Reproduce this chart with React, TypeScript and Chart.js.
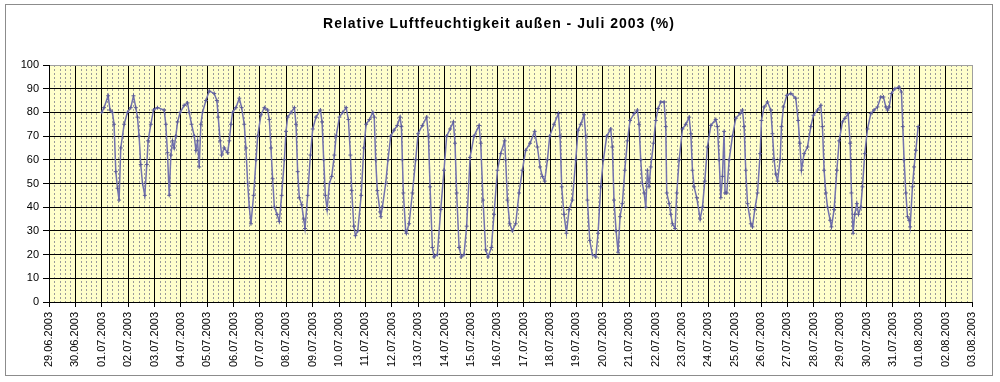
import React, { useEffect, useRef } from "react";
import { Chart, registerables } from "chart.js";

Chart.register(...registerables);

const TITLE = "Relative Luftfeuchtigkeit außen - Juli 2003 (%)";

const dateLabels = [
  "29.06.2003", "30.06.2003", "01.07.2003", "02.07.2003", "03.07.2003", "04.07.2003",
  "05.07.2003", "06.07.2003", "07.07.2003", "08.07.2003", "09.07.2003", "10.07.2003",
  "11.07.2003", "12.07.2003", "13.07.2003", "14.07.2003", "15.07.2003", "16.07.2003",
  "17.07.2003", "18.07.2003", "19.07.2003", "20.07.2003", "21.07.2003", "22.07.2003",
  "23.07.2003", "24.07.2003", "25.07.2003", "26.07.2003", "27.07.2003", "28.07.2003",
  "29.07.2003", "30.07.2003", "31.07.2003", "01.08.2003", "02.08.2003", "03.08.2003",
];

const yMin = 0;
const yMax = 100;
const yStep = 10;

// Series starts on 01.07.2003 00:00, i.e. the third day of the axis
const seriesStartDay = 2;

// hours since 01.07.2003 00:00 and relative humidity (%) — 01.07 to 11.07
const hours1 = [
  0, 2.1, 5.8, 7.6, 9.7, 11.2, 12.8, 14.3, 15.8, 17.3,
  20.4, 23.4, 26.4, 28.9, 31.0, 32.5, 34.0, 35.5, 37.1, 39.2,
  41.0, 42.2, 44.7, 47.1, 50.7, 56.8, 58.3, 59.8, 61.4, 62.9,
  64.4, 65.9, 67.4, 69.0, 71.4, 75.0, 78.1, 79.6, 81.7, 84.2,
  85.7, 87.2, 88.7, 90.2, 91.7, 94.8, 97.8, 102.4, 104.8, 106.0,
  107.8, 109.1, 111.5, 114.5, 116.1, 117.6, 119.1, 122.1, 125.2, 127.3,
  129.7, 131.2, 132.8, 134.3, 135.8, 138.2, 140.4, 141.9, 144.9, 148.0,
  151.0, 152.5, 154.0, 155.5, 157.1, 159.5, 161.6, 163.7, 166.2, 167.7,
  169.2, 172.3, 175.3, 176.8, 178.3, 179.8, 182.0, 183.8, 185.0, 187.4,
  189.9, 192.0, 195.0, 199.0, 200.5, 202.0, 203.5, 205.1, 207.2, 209.3,
  211.7, 213.3, 216.3, 219.3, 222.4, 224.5, 226.3, 227.5, 229.4, 230.9,
  233.0, 236.1, 238.5, 240.6, 243.6, 246.7,
];
const values1 = [
  80, 82, 87, 81, 80, 75, 55, 48, 43, 65,
  75, 80, 82, 87, 82, 78, 70, 58, 50, 45,
  58, 68, 75, 81, 82, 81, 75, 63, 45, 62,
  68, 65, 70, 76, 80, 83, 84, 80, 75, 70,
  64, 68, 57, 75, 80, 85, 89, 88, 85, 78,
  68, 62, 65, 63, 68, 75, 80, 82, 86, 82,
  75, 65, 50, 40, 33, 45, 60, 70, 79, 82,
  81, 77, 65, 52, 40, 37, 34, 45, 60, 72,
  78, 80, 82, 75, 55, 44, 41, 35, 31, 45,
  62, 73, 78, 81, 76, 60, 45, 39, 50, 53,
  62, 70, 78, 80, 82, 77, 62, 47, 32, 28,
  30, 45, 65, 75, 77, 80,
];

// 11.07 to 22.07
const hours2 = [
  248, 249.3, 250.8, 253.3, 253.9, 255.4, 258.4, 260.5, 263.0, 266.0,
  269.0, 271.5, 272.7, 273.6, 274.5, 276.6, 277.2, 279.7, 282.7, 285.7,
  287.9, 291.8, 295.7, 297.3, 298.8, 300.9, 302.4, 305.4, 308.5, 311.5,
  313.9, 317.0, 320.0, 321.5, 323.0, 325.2, 327.3, 329.7, 332.1, 335.2,
  338.8, 343.4, 344.9, 347.0, 349.4, 351.6, 354.6, 357.0, 360.1, 363.1,
  366.7, 367.6, 369.2, 371.3, 373.7, 376.7, 379.8, 382.8, 385.8, 389.8,
  394.0, 396.5, 398.9, 401.0, 403.1, 405.6, 407.7, 411.6, 415.6, 417.1,
  418.6, 420.7, 422.9, 425.3, 428.3, 431.4, 433.5, 435.9, 438.9, 440.5,
  442.0, 444.1, 446.5, 449.6, 451.7, 454.1, 456.5, 459.6, 463.2, 464.7,
  466.2, 468.1, 469.9, 471.7, 473.8, 476.0, 478.4, 480.8, 484.5, 487.5,
  489.0, 490.5, 492.0, 493.6, 495.1, 496.6, 498.1, 499.6, 502.1, 504.2,
  506.3,
];
const values2 = [
  78, 60, 47, 38, 36, 40, 50, 60, 70, 72.5,
  74.5, 78, 74, 60, 46, 30, 29, 33, 46, 60,
  71, 74.5, 78, 70, 48.6, 23, 19, 20, 39, 55.6,
  70, 73, 76, 67, 46, 23, 19, 20, 32, 61,
  70, 74.5, 67, 43, 22, 19, 23, 37, 55.6, 62.6,
  68, 60, 43, 33, 30, 33, 46, 55.6, 64, 67,
  72, 65.4, 57, 53, 51, 60, 70, 75, 79.5, 70,
  48.6, 37, 29, 39, 43, 60, 72.5, 75, 79, 70,
  43, 26, 20, 19, 29, 48.6, 60, 70, 73, 65.4,
  43, 30, 21, 36, 41.5, 55.6, 68, 76.6, 79.5, 81,
  75, 60, 50, 46, 40, 55.6, 48.6, 57, 67, 76.6,
  81.6,
];

// 22.07 to 01.08
const hours3 = [
  508.8, 511.8, 513.3, 514.2, 516.4, 517.9, 519.4, 521.8, 523.3, 525.5,
  528.5, 531.5, 534.6, 536.1, 537.6, 539.1, 541.5, 544.6, 546.7, 548.8,
  551.2, 554.3, 558.8, 560.3, 561.9, 563.4, 564.9, 566.4, 567.3, 568.8,
  571.0, 574.0, 577.0, 581.0, 583.1, 584.6, 586.1, 587.7, 590.7, 592.2,
  594.3, 596.8, 599.2, 600.4, 602.8, 605.9, 608.9, 610.4, 611.9, 613.4,
  615.0, 617.4, 618.6, 620.4, 623.5, 627.1, 631.6, 633.8, 635.3, 636.8,
  639.2, 642.3, 645.3, 647.7, 651.4, 654.4, 655.9, 657.4, 659.0, 660.5,
  662.9, 664.1, 666.5, 669.0, 671.1, 674.1, 676.3, 679.3, 681.1, 682.3,
  683.8, 685.3, 687.2, 688.7, 690.8, 692.3, 694.4, 696.9, 699.9, 702.9,
  706.0, 709.0, 711.4, 713.6, 715.1, 716.6, 718.7, 721.8, 725.7, 727.8,
  729.0, 730.2, 731.8, 733.3, 734.8, 735.7, 737.8, 739.3, 740.9, 743.0,
];
const values3 = [
  84.4, 84.4, 74, 46, 41.5, 37, 33, 31, 46, 60,
  73, 75, 78, 71, 55.6, 48.6, 44, 35, 40, 51,
  65.4, 74.5, 77, 74, 60, 44, 53, 72, 46, 46,
  60, 70, 77.5, 79.5, 81, 74, 55.6, 41.5, 33, 31.7,
  39, 46, 62.6, 76.6, 82.3, 84.4, 81, 71, 60, 54,
  51, 60, 74, 82.3, 87.2, 88, 86, 76.6, 67, 55.6,
  62.6, 65.4, 74, 78.8, 81, 83, 74, 55.6, 46, 40,
  34.5, 31.7, 39, 55.6, 68, 76, 77.5, 79.5, 67, 46,
  29, 37, 41.5, 37, 40, 48.6, 62.6, 73, 79.5, 81,
  82.3, 86.5, 86.5, 82.3, 81, 82.3, 88, 90, 90.7, 88.6,
  74, 60, 46, 36, 34.5, 31.7, 48.6, 57, 64, 74,
];

const minorPerDay = 5;
const FONT = '"Liberation Sans", Arial, sans-serif';

export default function App() {
  const ref = useRef<HTMLCanvasElement>(null);

  useEffect(() => {
    const canvas = ref.current;
    if (!canvas) return;
    const hours = [...hours1, ...hours2, ...hours3];
    const values = [...values1, ...values2, ...values3];
    const points = hours.map((h, i) => ({ x: seriesStartDay + h / 24, y: values[i] }));
    const lastDay = dateLabels.length - 1;

    const decor = {
      id: "decor",
      beforeDraw(chart: any) {
        const { ctx, chartArea: a } = chart;
        ctx.save();
        ctx.fillStyle = "#ffffff";
        ctx.fillRect(0, 0, chart.width, chart.height);
        ctx.strokeStyle = "#8c8c8c";
        ctx.lineWidth = 1;
        ctx.strokeRect(5.5, 4.5, 987, 371);
        ctx.fillStyle = "#ffffcc";
        ctx.fillRect(a.left, a.top, a.right - a.left, a.bottom - a.top);
        // minor dotted vertical grid
        const xs = chart.scales.x;
        ctx.strokeStyle = "#9a9a9a";
        ctx.setLineDash([2, 2]);
        for (let d = 0; d < lastDay; d++) {
          for (let k = 1; k < minorPerDay; k++) {
            const px = Math.round(xs.getPixelForValue(d + k / minorPerDay)) + 0.5;
            ctx.beginPath();
            ctx.moveTo(px, a.top);
            ctx.lineTo(px, a.bottom);
            ctx.stroke();
          }
        }
        ctx.setLineDash([]);
        // title
        ctx.font = "bold 14px " + FONT;
        (ctx as any).letterSpacing = "1px";
        ctx.fillStyle = "#000";
        ctx.textBaseline = "middle";
        ctx.textAlign = "left";
        const w = ctx.measureText(TITLE).width;
        ctx.fillText(TITLE, 499 - w / 2, 24);
        ctx.restore();
      },
    };

    const chart = new Chart(canvas, {
      type: "line",
      data: {
        datasets: [
          {
            data: points,
            borderColor: "#7272ae",
            borderWidth: 1.5,
            pointStyle: "cross",
            pointRadius: 2,
            pointBorderColor: "#5c5c98",
            pointBorderWidth: 1,
            tension: 0,
            fill: false,
          },
        ],
      },
      options: {
        animation: false,
        responsive: false,
        maintainAspectRatio: false,
        devicePixelRatio: 1,
        layout: { padding: { left: 0, right: 28, top: 65, bottom: 0 } },
        plugins: {
          legend: { display: false },
          title: { display: false },
          tooltip: { enabled: false },
        },
        scales: {
          x: {
            type: "linear",
            min: 0,
            max: lastDay,
            ticks: {
              stepSize: 1,
              autoSkip: false,
              maxRotation: 90,
              minRotation: 90,
              color: "#000",
              padding: 5,
              font: { family: FONT, size: 11 },
              callback: (v: any) => dateLabels[Math.round(v)] ?? "",
            },
            grid: {
              color: (c: any) => (c.tick && c.tick.value === lastDay ? "#a0a0a0" : "#000"),
              tickColor: "#000",
              tickLength: 5,
              lineWidth: 1,
            },
            border: { color: "#000", width: 1 },
            afterFit: (s: any) => {
              s.height = 80;
            },
          },
          y: {
            min: yMin,
            max: yMax,
            ticks: {
              stepSize: yStep,
              color: "#000",
              padding: 4,
              font: { family: FONT, size: 11 },
            },
            grid: {
              color: (c: any) => (c.tick && c.tick.value === yMax ? "#a0a0a0" : "#000"),
              tickColor: "#000",
              tickLength: 6,
              lineWidth: 1,
            },
            border: { color: "#000", width: 1 },
            afterFit: (s: any) => {
              s.width = 49;
            },
          },
        },
      },
      plugins: [decor],
    });

    return () => chart.destroy();
  }, []);

  return (
    <div style={{ position: "absolute", left: 0, top: 0, width: 1000, height: 382 }}>
      <canvas ref={ref} width={1000} height={382} style={{ display: "block" }} />
    </div>
  );
}
